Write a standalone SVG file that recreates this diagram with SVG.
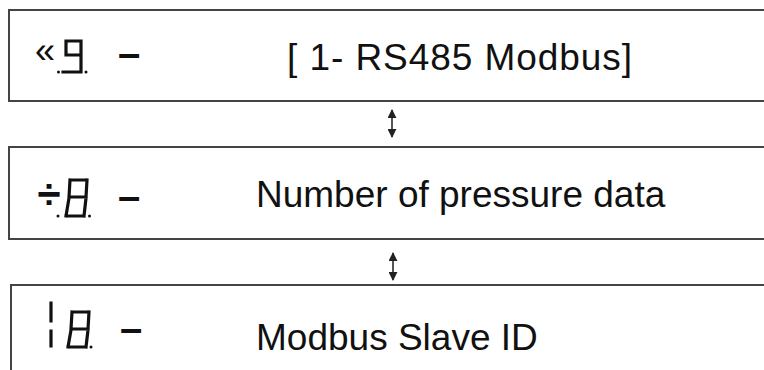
<svg xmlns="http://www.w3.org/2000/svg" width="764" height="370" viewBox="0 0 764 370">
<style>
.box{fill:#fff;stroke:#444;stroke-width:2}
.lbl{font-family:"Liberation Sans",Arial,sans-serif;font-size:37px;fill:#111}
.sym{font-family:"Liberation Sans",Arial,sans-serif;fill:#111}
.seg{stroke:#111;stroke-width:3.2;fill:none;stroke-linecap:square}
.dot{fill:#111}
.conn{stroke:#555;stroke-width:2;fill:none}
</style>
<defs>
<marker id="ah" viewBox="0 0 10 10" refX="9" refY="5" markerWidth="4.5" markerHeight="4.5" orient="auto-start-reverse">
<path d="M0,0 L10,5 L0,10 z" fill="#222"/>
</marker>
</defs>
<g id="node-rs485">
<rect class="box" x="9" y="10" width="770" height="91"/>
<text class="sym" x="45" y="63" font-size="36" text-anchor="middle">«</text>
<path class="seg" d="M66,41 L81,41 M66,41 L66,55 M66,55 L81,55 M81,41 L81,72 M63,72 L80,72"/>
<circle class="dot" cx="58.5" cy="72" r="1.5"/>
<circle class="dot" cx="86" cy="72" r="1.5"/>
<text class="sym" x="129" y="67" font-size="40" font-weight="bold" text-anchor="middle">–</text>
<text class="lbl" x="287" y="70" textLength="345" lengthAdjust="spacing">[ 1- RS485 Modbus]</text>
</g>
<g id="node-pressure">
<rect class="box" x="9" y="147" width="770" height="92"/>
<text class="sym" x="49" y="209" font-size="42" font-weight="bold" text-anchor="middle">÷</text>
<path class="seg" d="M70,180 L86,180 M70,180 L69,197 M87,180 L86,197 M69,197 L86,197 M69,198 L66,216 M86,198 L84,216 M66,216 L84,216"/>
<circle class="dot" cx="58" cy="216" r="1.5"/>
<circle class="dot" cx="89.5" cy="216" r="1.5"/>
<text class="sym" x="129" y="210" font-size="40" font-weight="bold" text-anchor="middle">–</text>
<text class="lbl" x="256" y="207">Number of pressure data</text>
</g>
<g id="node-slaveid">
<rect class="box" x="11" y="285" width="770" height="100"/>
<path class="seg" d="M51,303 L51,321 M51,331 L51,346"/>
<path class="seg" d="M72,312 L88,312 M72,312 L71,329 M89,312 L88,329 M71,329 L88,329 M71,330 L68,347 M88,330 L86,347 M68,347 L86,347"/>
<circle class="dot" cx="91" cy="347" r="1.5"/>
<text class="sym" x="131" y="342" font-size="40" font-weight="bold" text-anchor="middle">–</text>
<text class="lbl" x="256" y="350">Modbus Slave ID</text>
</g>
<g id="connectors">
<line class="conn" x1="392" y1="110" x2="392" y2="137" marker-start="url(#ah)" marker-end="url(#ah)"/>
<line class="conn" x1="393" y1="253" x2="393" y2="280" marker-start="url(#ah)" marker-end="url(#ah)"/>
</g>
</svg>
